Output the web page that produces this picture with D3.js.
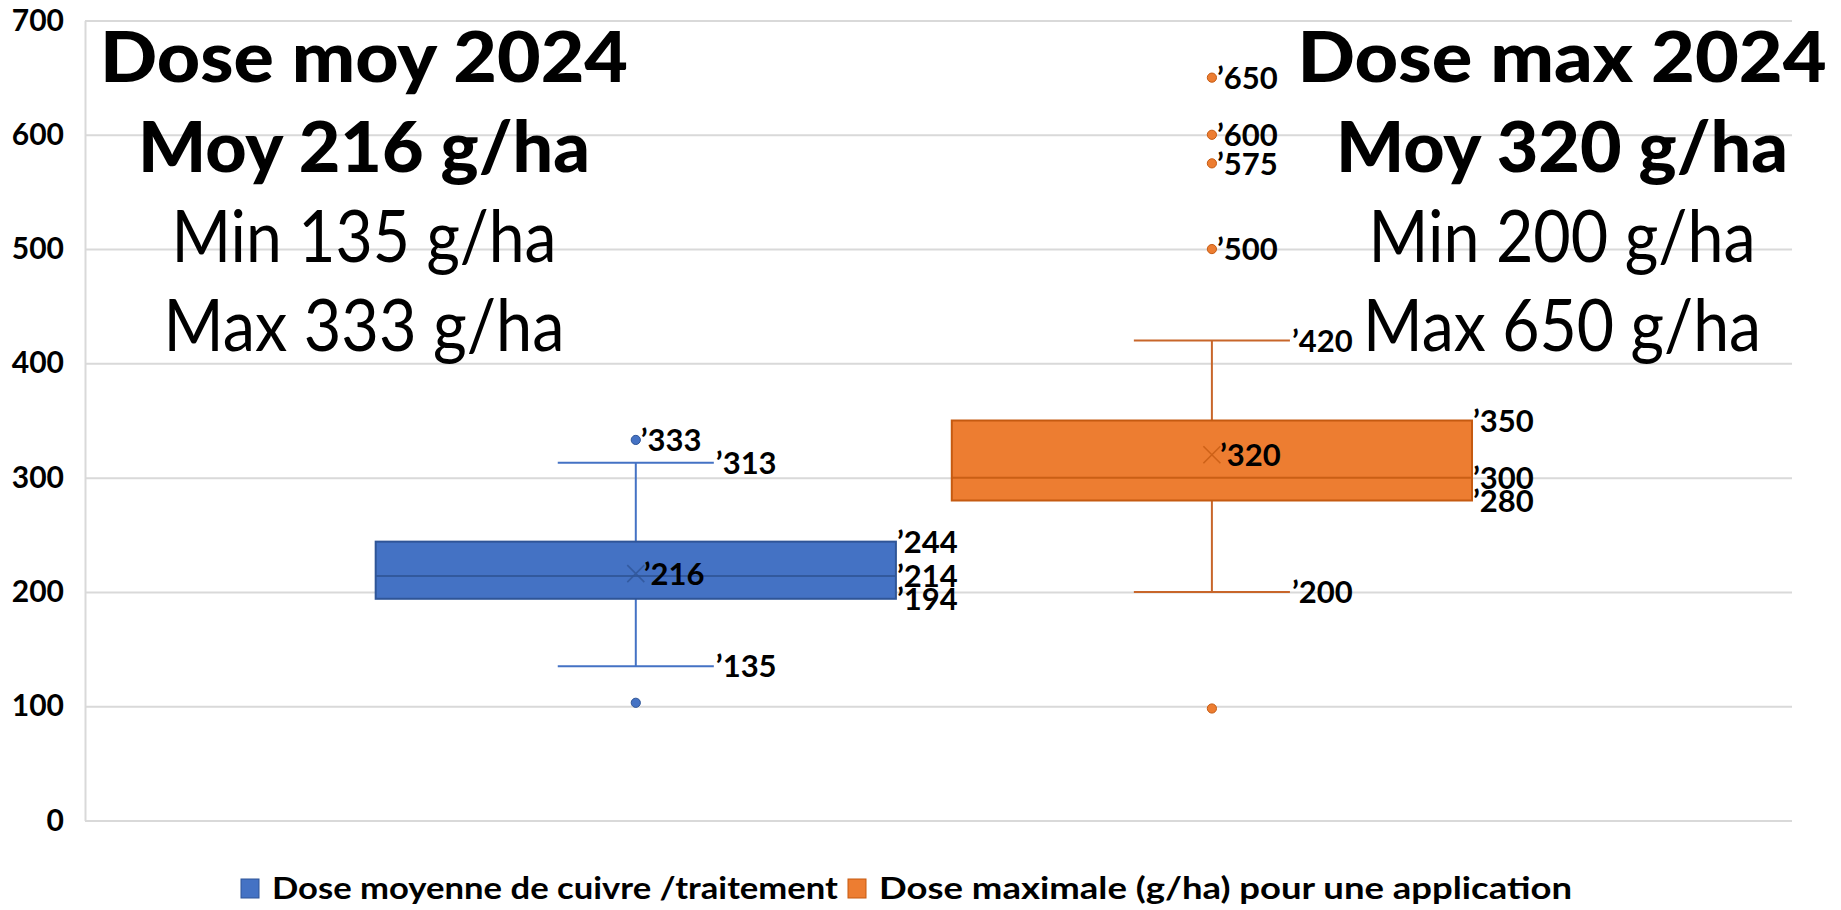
<!DOCTYPE html>
<html>
<head>
<meta charset="utf-8">
<script src="https://cdn.jsdelivr.net/npm/d3@7"></script>
<style>
  html, body { margin: 0; padding: 0; background: #fff; }
  svg { display: block; }
</style>
</head>
<body>
<svg id="chart" width="1841" height="910"></svg>
<script>
// ---------- DATA ----------
const series = ["Dose moyenne de cuivre /traitement", "Dose maximale (g/ha) pour une application"];
const whiskerLow  = [135, 200];
const q1          = [194, 280];
const median      = [214, 300];
const q3          = [244, 350];
const whiskerHigh = [313, 420];
const mean        = [216, 320];
const labeledOutliers   = [[333], [650, 600, 575, 500]];
const unlabeledOutliers = [[103], [98]];
const yTicks = [0, 100, 200, 300, 400, 500, 600, 700];
const leftNote  = ["Dose moy 2024", "Moy 216 g/ha", "Min 135 g/ha", "Max 333 g/ha"];
const rightNote = ["Dose max 2024", "Moy 320 g/ha", "Min 200 g/ha", "Max 650 g/ha"];

// ---------- STYLE / LAYOUT ----------
const fills   = ["#4472C4", "#ED7D31"];
const strokes = ["#2F5597", "#C55A11"];
const whiskerColors = ["#4472C4", "#C8662A"];
const plot = { left: 85, right: 1792, top: 20.5, bottom: 820.5 };
const FONT = "Lato, 'Open Sans', sans-serif";

const svg = d3.select("#chart");

const y = d3.scaleLinear().domain([0, 700]).range([plot.bottom, plot.top]);
const x = d3.scaleBand().domain(series).range([plot.left, plot.right])
  .paddingInner(0.097).paddingOuter(0.53).align(0.476);
const bw = x.bandwidth();
const capW = bw * 0.3;

// ---------- AXIS / GRID ----------
const yAxis = d3.axisLeft(y).tickValues(yTicks)
  .tickSize(-(plot.right - plot.left)).tickSizeOuter(0).tickPadding(21)
  .tickFormat(d3.format("d"));
const gy = svg.append("g").attr("transform", `translate(${plot.left},0)`).call(yAxis);
gy.selectAll(".tick line").attr("stroke", "#D9D9D9").attr("stroke-width", 2);
gy.select(".domain").attr("stroke", "#D9D9D9").attr("stroke-width", 2);
gy.selectAll(".tick text")
  .attr("font-family", FONT).attr("font-weight", 700).attr("font-size", 30)
  .attr("fill", "#000");

// ---------- NOTES (text blocks) ----------
const noteBaselines = [81.7, 171.7, 261.7, 350.7];
const leftWidths  = [528, 452, 385, 401];
const rightWidths = [529, 452, 387, 398];
function drawNote(lines, cx, widths) {
  svg.append("g").selectAll("text").data(lines).join("text")
    .attr("x", cx)
    .attr("y", (d, i) => noteBaselines[i])
    .attr("text-anchor", "middle")
    .attr("font-family", FONT)
    .attr("font-weight", (d, i) => i < 2 ? 900 : 400)
    .attr("font-size", (d, i) => i < 2 ? 70 : 71)
    .attr("fill", "#000")
    .attr("textLength", (d, i) => widths[i])
    .attr("lengthAdjust", "spacingAndGlyphs")
    .text(d => d);
}
drawNote(leftNote, 364, leftWidths);
drawNote(rightNote, 1562, rightWidths);

// ---------- BOXES ----------
const LFS = 31;
function label(g, xp, val, txt) {
  g.append("text")
    .attr("x", xp).attr("y", y(val) + LFS * 0.36)
    .attr("font-family", FONT).attr("font-weight", 700).attr("font-size", LFS)
    .attr("fill", "#000")
    .text("\u2019" + txt);
}

series.forEach((s, i) => {
  const g = svg.append("g");
  const x0 = x(s), cx = x0 + bw / 2;
  // whiskers
  g.append("line").attr("x1", cx).attr("x2", cx).attr("y1", y(whiskerHigh[i])).attr("y2", y(q3[i]))
    .attr("stroke", whiskerColors[i]).attr("stroke-width", 2);
  g.append("line").attr("x1", cx).attr("x2", cx).attr("y1", y(q1[i])).attr("y2", y(whiskerLow[i]))
    .attr("stroke", whiskerColors[i]).attr("stroke-width", 2);
  [whiskerHigh[i], whiskerLow[i]].forEach(v => {
    g.append("line").attr("x1", cx - capW / 2).attr("x2", cx + capW / 2)
      .attr("y1", y(v)).attr("y2", y(v))
      .attr("stroke", whiskerColors[i]).attr("stroke-width", 2);
  });
  // box
  g.append("rect").attr("x", x0).attr("width", bw)
    .attr("y", y(q3[i])).attr("height", y(q1[i]) - y(q3[i]))
    .attr("fill", fills[i]).attr("stroke", strokes[i]).attr("stroke-width", 2);
  // median
  g.append("line").attr("x1", x0).attr("x2", x0 + bw).attr("y1", y(median[i])).attr("y2", y(median[i]))
    .attr("stroke", strokes[i]).attr("stroke-width", 2).attr("opacity", 0.85);
  // mean cross
  const my = y(mean[i]), cs = 8.5;
  g.append("path")
    .attr("d", `M${cx - cs},${my - cs}L${cx + cs},${my + cs}M${cx - cs},${my + cs}L${cx + cs},${my - cs}`)
    .attr("stroke", strokes[i]).attr("stroke-width", 1.6).attr("opacity", 0.8).attr("fill", "none");
  // outliers
  labeledOutliers[i].concat(unlabeledOutliers[i]).forEach(v => {
    g.append("circle").attr("cx", cx).attr("cy", y(v)).attr("r", 4.6)
      .attr("fill", fills[i]).attr("stroke", strokes[i]).attr("stroke-width", 1);
  });
  // labels
  labeledOutliers[i].forEach(v => label(g, cx + 5, v, v));
  label(g, cx + 8, mean[i], mean[i]);
  label(g, cx + capW / 2 + 2, whiskerHigh[i], whiskerHigh[i]);
  label(g, cx + capW / 2 + 2, whiskerLow[i], whiskerLow[i]);
  [q3[i], median[i], q1[i]].forEach(v => label(g, x0 + bw + 1, v, v));
});

// ---------- LEGEND ----------
const legendX = [241, 848];
const legendTextW = [566, 693];
const lg = svg.append("g");
series.forEach((s, i) => {
  lg.append("rect").attr("x", legendX[i]).attr("y", 879).attr("width", 18).attr("height", 19)
    .attr("fill", fills[i]).attr("stroke", strokes[i]).attr("stroke-width", 1);
  lg.append("text").attr("x", legendX[i] + 31).attr("y", 899)
    .attr("font-family", FONT).attr("font-weight", 700).attr("font-size", 31)
    .attr("fill", "#000")
    .attr("textLength", legendTextW[i]).attr("lengthAdjust", "spacingAndGlyphs")
    .text(s);
});
</script>
</body>
</html>
